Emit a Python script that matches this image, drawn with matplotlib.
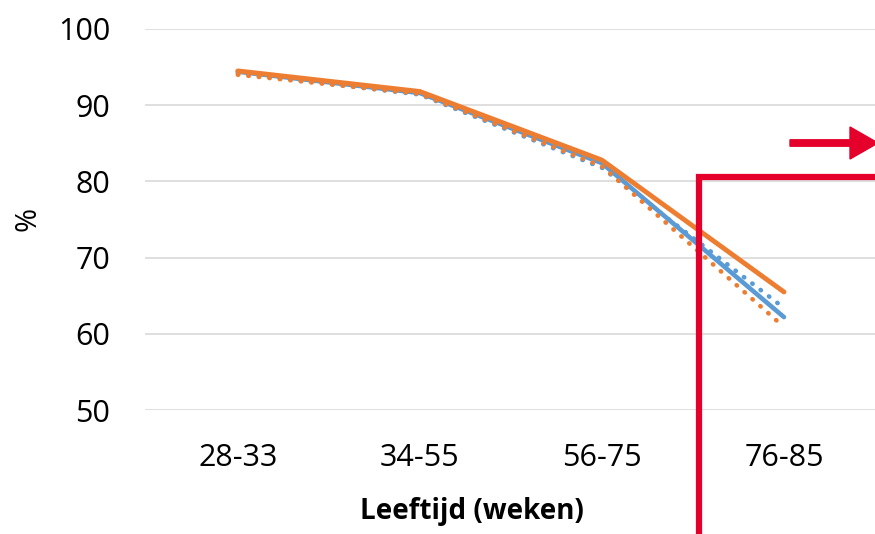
import matplotlib.pyplot as plt
from matplotlib.patches import Rectangle, FancyArrow

# data
categories = ['28-33', '34-55', '56-75', '76-85']
orange_solid = [94.5, 91.8, 82.8, 65.5]
blue_solid = [94.4, 91.6, 82.4, 62.2]
orange_dotted = [94.0, 91.5, 82.0, 60.9]
blue_dotted = [94.2, 91.4, 81.8, 63.4]
yticks = [50, 60, 70, 80, 90, 100]

ORANGE = '#ED7D31'
BLUE = '#5B9BD5'
RED = '#E4002B'

plt.rcParams['font.family'] = ['Open Sans', 'DejaVu Sans']

fig = plt.figure(figsize=(8.75, 5.34), dpi=100)
ax = fig.add_axes([0.1657, 0.232, 0.8343, 0.7137])

x = range(len(categories))
ax.plot(x, blue_solid, color=BLUE, lw=3.3, solid_capstyle='round', zorder=3)
ax.plot(x, blue_dotted, color=BLUE, lw=3.3, linestyle=(0, (0.1, 2.2)),
        dash_capstyle='round', zorder=4)
ax.plot(x, orange_dotted, color=ORANGE, lw=3.3, linestyle=(0, (0.1, 2.2)),
        dash_capstyle='round', zorder=4)
ax.plot(x, orange_solid, color=ORANGE, lw=3.5, solid_capstyle='round', zorder=5)

ax.set_xlim(-0.51, 3.5)
ax.set_ylim(50, 100)
ax.set_yticks(yticks)
ax.set_xticks(list(x))
ax.set_xticklabels(categories)
ax.grid(axis='y', color='#D9D9D9', lw=1.2)
ax.set_axisbelow(True)
for s in ax.spines.values():
    s.set_visible(False)
ax.tick_params(length=0, labelsize=22, colors='black')
ax.tick_params(axis='y', pad=25)
ax.tick_params(axis='x', pad=24)

# axis titles placed as in the reference
fig.text(472 / 875, 1 - 511 / 534, 'Leeftijd (weken)', fontsize=20,
         fontweight='bold', ha='center', va='center')
fig.text(0.032, 0.59, '%', fontsize=21, rotation=90, ha='center', va='center')

# red highlight box and arrow (figure coords)
W, H = 875, 534
rect = Rectangle((699 / W, -0.05), 200 / W, (534 - 177) / H + 0.05,
                 transform=fig.transFigure, fill=False, edgecolor=RED,
                 lw=4.5, clip_on=False)
fig.patches.append(rect)
arrow = FancyArrow(790 / W, 1 - 143 / H, 60 / W, 0, width=0.012,
                   head_width=0.06, head_length=28 / W,
                   length_includes_head=False, color=RED,
                   transform=fig.transFigure)
fig.patches.append(arrow)

fig.savefig('out.png', dpi=100)
